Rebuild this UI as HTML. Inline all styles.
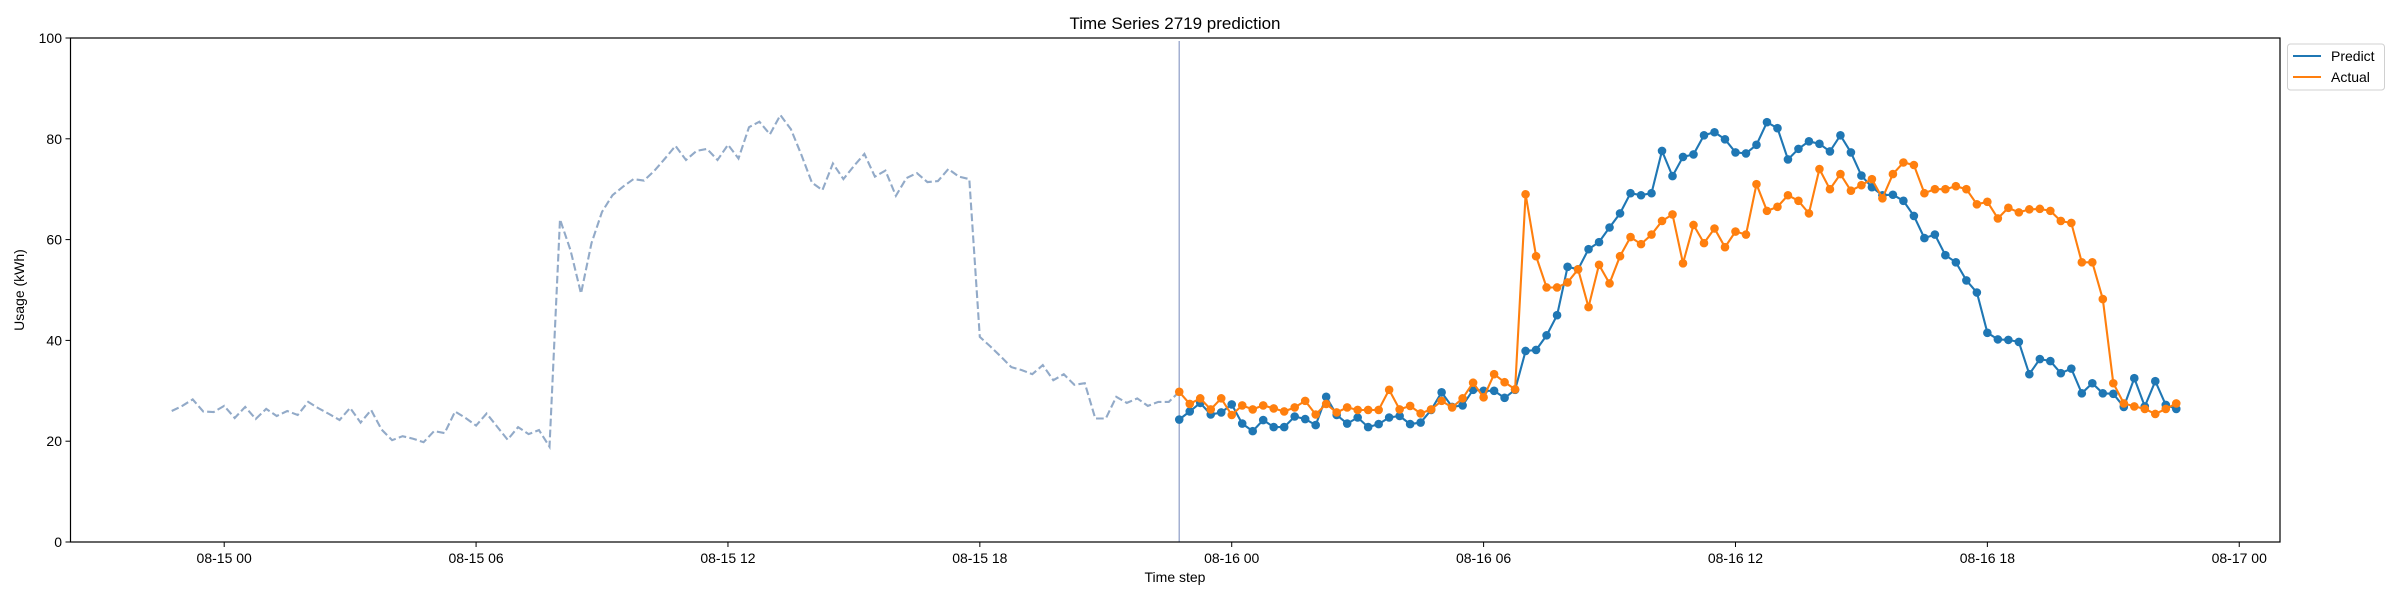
<!DOCTYPE html>
<html><head><meta charset="utf-8"><style>
html,body{margin:0;padding:0;background:#fff;}
svg{display:block;font-family:"Liberation Sans",sans-serif;}
</style></head><body>
<svg id="chart" width="2400" height="600" viewBox="0 0 2400 600" xmlns="http://www.w3.org/2000/svg">
<rect x="0" y="0" width="2400" height="600" fill="#fff"/>
<text x="1175" y="29" text-anchor="middle" font-size="17">Time Series 2719 prediction</text>
<g id="plot"></g>
<rect x="70.5" y="38" width="2209.5" height="504" fill="none" stroke="#000" stroke-width="1.2"/>
<g id="axes"></g>
<text x="1175" y="582" text-anchor="middle" font-size="14">Time step</text>
<text transform="translate(24,290) rotate(-90)" text-anchor="middle" font-size="14">Usage (kWh)</text>
<g>
<rect x="2287.5" y="44" width="97" height="46" rx="3" fill="#fff" stroke="#d0d0d0"/>
<g>
<line x1="2293" y1="56" x2="2321" y2="56" stroke="#1f77b4" stroke-width="2.1"/>
<text x="2331" y="61" font-size="14">Predict</text></g>
<g>
<line x1="2293" y1="77" x2="2321" y2="77" stroke="#ff7f0e" stroke-width="2.1"/>
<text x="2331" y="82" font-size="14">Actual</text></g>
</g>
</svg>
<script>
const historyValues=[26.0,27.0,28.3,25.9,25.8,27.0,24.6,26.8,24.4,26.4,25.0,26.0,25.2,27.8,26.5,25.4,24.2,26.6,23.7,26.2,22.3,20.2,21.0,20.5,19.8,22.0,21.6,25.9,24.6,23.1,25.5,22.9,20.3,22.8,
21.4,22.2,18.9,64.0,57.9,49.3,59.3,65.5,68.8,70.5,72.0,71.7,73.7,76.1,78.6,75.8,77.6,78.0,75.8,78.8,76.1,82.3,83.4,80.9,84.7,81.9,76.8,71.3,69.8,75.1,72.0,74.6,
77.0,72.5,73.7,68.7,72.2,73.2,71.4,71.6,74.0,72.5,72.0,40.7,38.8,36.8,34.7,34.1,33.3,35.1,32.1,33.3,31.2,31.5,24.5,24.5,28.8,27.6,28.5,27.0,27.8,27.8,29.8];
const predictValues=[24.3,25.9,27.6,25.3,25.7,27.3,23.5,22.0,24.2,22.8,22.8,24.9,24.4,23.2,28.8,25.2,23.5,24.7,22.8,23.4,24.7,25.0,23.4,23.7,26.2,29.7,26.8,27.1,30.2,30.0,30.0,28.6,30.2,
37.9,38.1,41.0,45.0,54.6,54.1,58.1,59.5,62.4,65.2,69.2,68.8,69.2,77.6,72.6,76.4,76.9,80.7,81.3,79.9,77.3,77.1,78.8,83.3,82.1,75.9,78.0,79.5,79.0,77.5,80.7,
77.3,72.7,70.4,68.8,68.9,67.7,64.7,60.3,61.0,56.9,55.5,51.9,49.5,41.5,40.2,40.1,39.7,33.3,36.3,35.9,33.5,34.4,29.5,31.5,29.5,29.4,26.8,32.5,26.9,31.9,27.2,26.4];
const actualValues=[29.8,27.4,28.5,26.3,28.5,25.2,27.1,26.3,27.1,26.5,25.9,26.7,28.0,25.3,27.4,25.7,26.7,26.2,26.2,26.2,30.2,26.3,27.0,25.5,26.3,28.0,26.7,28.5,31.6,28.7,33.3,31.7,30.3,
69.0,56.7,50.5,50.5,51.5,54.1,46.6,55.0,51.3,56.7,60.5,59.1,61.0,63.7,65.0,55.3,62.9,59.3,62.2,58.5,61.6,61.0,71.0,65.7,66.5,68.8,67.7,65.2,74.0,70.0,73.0,
69.7,70.8,72.0,68.2,73.0,75.3,74.8,69.2,70.0,70.0,70.6,70.0,67.0,67.5,64.2,66.3,65.4,66.0,66.1,65.7,63.7,63.3,55.5,55.5,48.2,31.5,27.5,26.9,26.4,25.4,26.4,27.5];
const yTicks=[0,20,40,60,80,100];
const xTickHours=[0,6,12,18,24,30,36,42,48];
const xTickLabels=["08-15 00","08-15 06","08-15 12","08-15 18","08-16 00","08-16 06","08-16 12","08-16 18","08-17 00"];
const historyStartHour=-1.25;
const forecastStartHour=22.75;
const stepHours=0.25;

const NS="http://www.w3.org/2000/svg";
const X0=224.2, PXH=41.98, YB=542, YT=38;
function xScale(h){return X0+h*PXH;}
function yScale(v){return YB-(v/100)*(YB-YT);}
function mk(tag,attrs,parent){const e=document.createElementNS(NS,tag);for(const k in attrs)e.setAttribute(k,attrs[k]);parent.appendChild(e);return e;}
const plot=document.getElementById('plot'), axes=document.getElementById('axes');

// vertical line at forecast start
const vl=mk('line',{x1:xScale(forecastStartHour),x2:xScale(forecastStartHour),y1:41,y2:YB,stroke:'#a3b0d2','stroke-width':1.5},plot);



function pts(vals,start){return vals.map((v,i)=>xScale(start+i*stepHours).toFixed(1)+','+yScale(v).toFixed(1)).join(' ');}
const hist=mk('polyline',{points:pts(historyValues,historyStartHour),fill:'none',stroke:'#92aac8','stroke-width':2.1,'stroke-dasharray':'7.7,3.3'},plot);



function series(vals,color,name){
  const g=mk('g',{},plot);
  
  
  const pl=mk('polyline',{points:pts(vals,forecastStartHour),fill:'none',stroke:color,'stroke-width':2.1},g);
  
  
  vals.forEach((v,i)=>{
    const c=mk('circle',{cx:xScale(forecastStartHour+i*stepHours),cy:yScale(v),r:4.3,fill:color},g);
    
    
  });
}
series(predictValues,'#1f77b4','predict');
series(actualValues,'#ff7f0e','actual');

yTicks.forEach(t=>{
  const y=yScale(t);
  const l=mk('line',{x1:65.5,x2:70.5,y1:y,y2:y,stroke:'#000','stroke-width':1},axes);
  
  
  const tx=mk('text',{x:62,y:y+5,'text-anchor':'end','font-size':14},axes);
  tx.textContent=t;
  
  
});
xTickHours.forEach((h,i)=>{
  const x=xScale(h);
  if(x>2281)return;
  const l=mk('line',{x1:x,x2:x,y1:542,y2:547,stroke:'#000','stroke-width':1},axes);
  
  
  const tx=mk('text',{x:x,y:563,'text-anchor':'middle','font-size':14},axes);
  tx.textContent=xTickLabels[i];
  
  
});
</script>
</body></html>
